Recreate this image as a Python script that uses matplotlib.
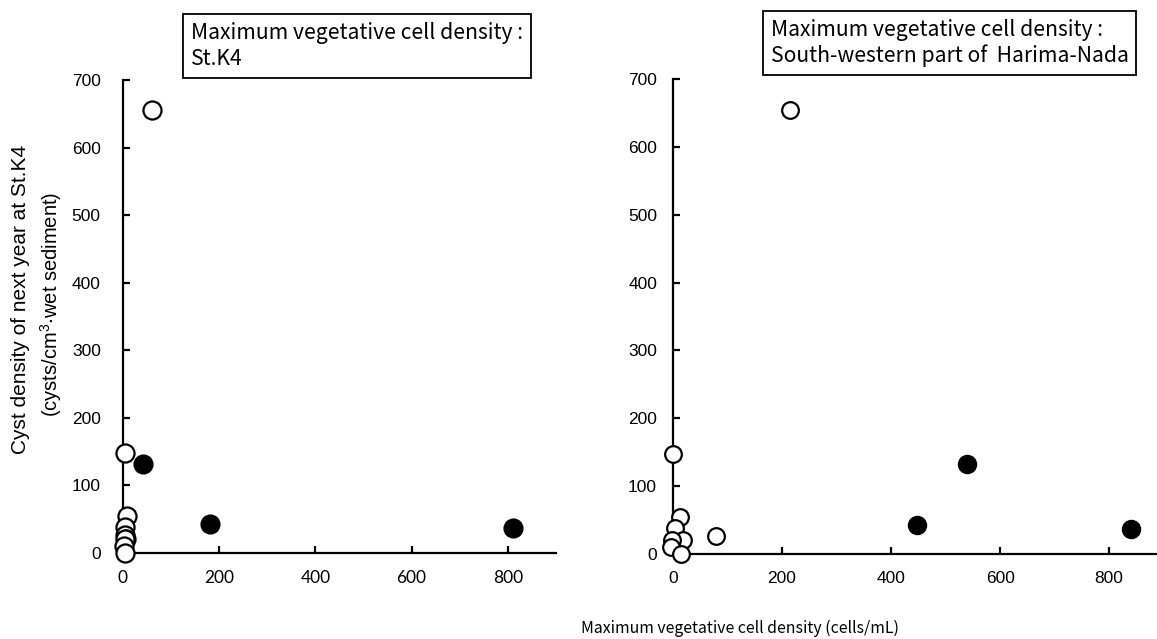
import matplotlib
matplotlib.use('Agg')
import matplotlib.pyplot as plt

plt.rcParams['font.family'] = ['Liberation Sans', 'DejaVu Sans']
plt.rcParams['mathtext.default'] = 'regular'

JP = ['Noto Sans CJK JP', 'DejaVu Sans']

# y values (cysts of next year at St.K4)
open_y = [655, 148, 55, 39, 26, 21, 20, 10, 0]
filled_y = [132, 43, 37]

# x values for each panel
k4_open_x = [60, 5, 8, 4, 5, 6, 4, 3, 5]
k4_filled_x = [41, 181, 811]
sw_open_x = [215, 0, 12, 3, 79, 18, -1, -3, 14]
sw_filled_x = [539, 448, 840]

y_ticks = [0, 100, 200, 300, 400, 500, 600, 700]
x_ticks = [0, 200, 400, 600, 800]

box_left = 'Maximum vegetative cell density :\nSt.K4'
box_right = 'Maximum vegetative cell density :\nSouth-western part of  Harima-Nada'

fig = plt.figure(figsize=(11.57, 6.39), dpi=100)
ax1 = fig.add_axes([0.1063, 0.1346, 0.3742, 0.7402])
ax2 = fig.add_axes([0.5817, 0.1330, 0.4240, 0.7434])


def style(ax, ypad):
    for s in ['top', 'right']:
        ax.spines[s].set_visible(False)
    for s in ['left', 'bottom']:
        ax.spines[s].set_linewidth(1.6)
    ax.set_xlim(0, 900)
    ax.set_ylim(0, 700)
    ax.set_xticks(x_ticks)
    ax.set_yticks(y_ticks)
    ax.tick_params(direction='in', length=5, width=1.6, labelsize=12.5)
    ax.tick_params(axis='y', pad=ypad)
    ax.tick_params(axis='x', pad=12)


style(ax1, 16)
style(ax2, 11.5)
for lab in ax1.get_xticklabels():
    lab.set_fontfamily('Lato')

ax1.plot(k4_open_x, open_y, 'o', ms=13, mfc='white', mec='black', mew=1.6, clip_on=False, zorder=3)
ax1.plot(k4_filled_x, filled_y, 'o', ms=13.5, mfc='black', mec='black', clip_on=False, zorder=3)
ax2.plot(sw_open_x, open_y, 'o', ms=12, mfc='white', mec='black', mew=1.6, clip_on=False, zorder=3)
ax2.plot(sw_filled_x, filled_y, 'o', ms=13, mfc='black', mec='black', clip_on=False, zorder=3)

bbox = dict(boxstyle='square,pad=0.38', fc='white', ec='black', lw=1.3)
fig.text(0.165, 0.965, box_left, ha='left', va='top', fontsize=15.2,
         family=JP, linespacing=1.22, bbox=bbox)
fig.text(0.666, 0.970, box_right, ha='left', va='top', fontsize=15.2,
         family=JP, linespacing=1.18, bbox=bbox)

fig.text(0.018, 0.532, 'Cyst density of next year at St.K4', rotation=90,
         ha='center', va='center', fontsize=15)
fig.text(0.044, 0.523, '(cysts/cm$^{3}$$\\cdot$wet sediment)', rotation=90,
         ha='center', va='center', fontsize=14.5)
fig.text(0.6396, 0.017, 'Maximum vegetative cell density (cells/mL)',
         ha='center', va='center', fontsize=11.4, family=JP)

fig.savefig('out.png', dpi=100)
